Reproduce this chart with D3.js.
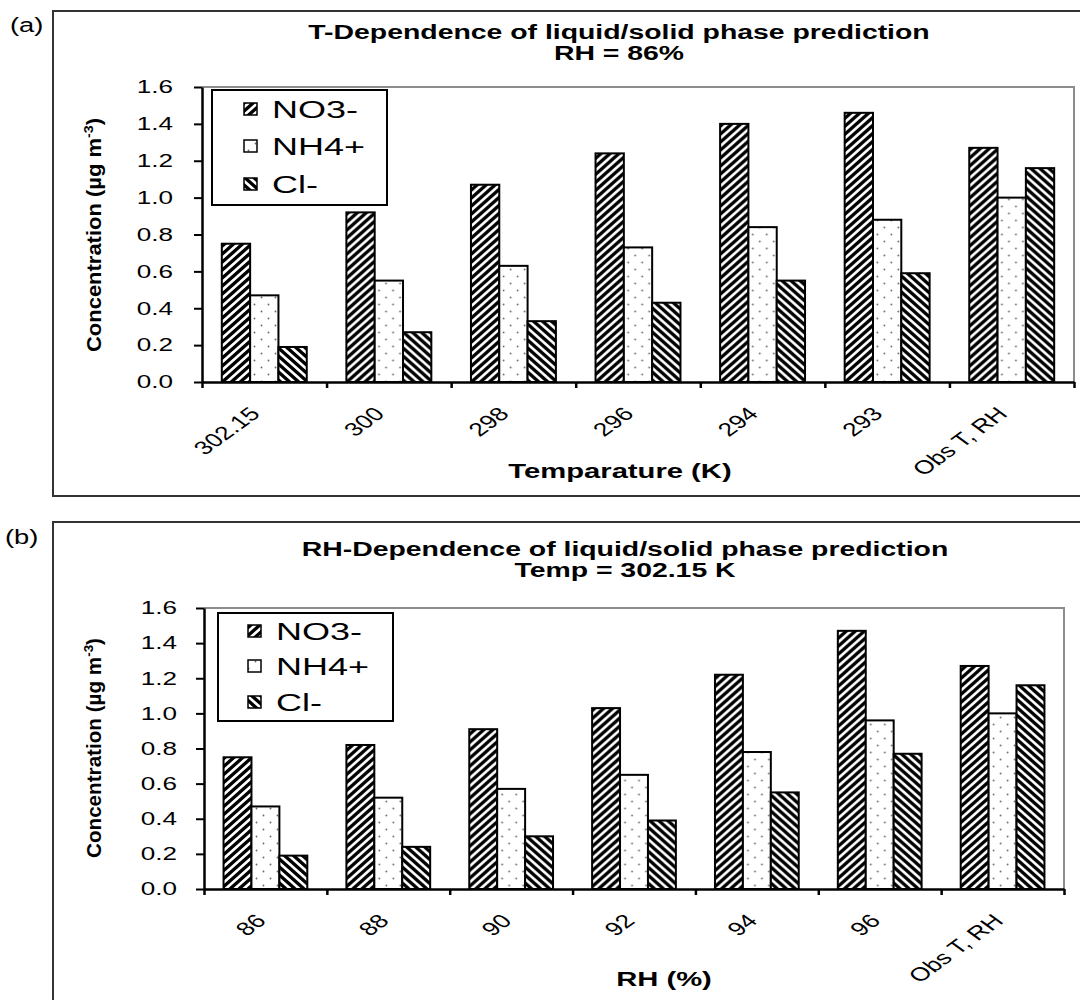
<!DOCTYPE html>
<html>
<head>
<meta charset="utf-8">
<script src="https://cdn.jsdelivr.net/npm/d3@7"></script>
<style>
body { margin: 0; background: #fff; }
text { font-family: "Liberation Sans", Arial, sans-serif; fill: #000; }
</style>
</head>
<body>
<div id="chart"></div>
<script>
// data
var seriesNames = ["NO3-", "NH4+", "Cl-"];
var yTicks = [0, 0.2, 0.4, 0.6, 0.8, 1.0, 1.2, 1.4, 1.6];

var tempLabels = ["302.15", "300", "298", "296", "294", "293", "Obs T, RH"];
var tempNO3 = [0.75, 0.92, 1.07, 1.24, 1.40, 1.46, 1.27];
var tempNH4 = [0.47, 0.55, 0.63, 0.73, 0.84, 0.88, 1.00];
var tempCl  = [0.19, 0.27, 0.33, 0.43, 0.55, 0.59, 1.16];

var rhLabels = ["86", "88", "90", "92", "94", "96", "Obs T, RH"];
var rhNO3 = [0.75, 0.82, 0.91, 1.03, 1.22, 1.47, 1.27];
var rhNH4 = [0.47, 0.52, 0.57, 0.65, 0.78, 0.96, 1.00];
var rhCl  = [0.19, 0.24, 0.30, 0.39, 0.55, 0.77, 1.16];

var svg = d3.select("#chart").append("svg")
	.attr("width", 1080)
	.attr("height", 1000);
var defs = svg.append("defs");

// hatch fills (excel style)
function hatch(id, up) {
	var w = 9, h = 8, a = 3, k = h / w;
	var p = defs.append("pattern").attr("id", id)
		.attr("patternUnits", "userSpaceOnUse")
		.attr("width", w).attr("height", h);
	p.append("rect").attr("width", w).attr("height", h).attr("fill", "#fff");
	var d;
	if (up) {
		d = "M0," + h + "L" + w + ",0" +
			"M" + (-a) + "," + (a * k) + "L" + a + "," + (-a * k) +
			"M" + (w - a) + "," + (h + a * k) + "L" + (w + a) + "," + (h - a * k);
	} else {
		d = "M0,0L" + w + "," + h +
			"M" + (-a) + "," + (h - a * k) + "L" + a + "," + (h + a * k) +
			"M" + (w - a) + "," + (-a * k) + "L" + (w + a) + "," + (a * k);
	}
	p.append("path").attr("d", d).attr("stroke", "#000").attr("stroke-width", 3.3).attr("fill", "none");
}
hatch("hatchUp", true);
hatch("hatchDown", false);

var dots = defs.append("pattern").attr("id", "dots")
	.attr("patternUnits", "userSpaceOnUse")
	.attr("width", 14).attr("height", 14);
dots.append("rect").attr("width", 14).attr("height", 14).attr("fill", "#fff");
dots.append("circle").attr("cx", 3.5).attr("cy", 3.5).attr("r", 0.9).attr("fill", "#666");
dots.append("circle").attr("cx", 10.5).attr("cy", 10.5).attr("r", 0.9).attr("fill", "#666");

var fills = ["url(#hatchUp)", "url(#dots)", "url(#hatchDown)"];

// the original picture is stretched sideways, so text gets scaled in x
function stext(g, x, y, str, size, sx, opts) {
	opts = opts || {};
	return g.append("text")
		.attr("transform", "translate(" + x + "," + y + ") scale(" + sx + ",1)" + (opts.rotate ? " rotate(" + opts.rotate + ")" : ""))
		.attr("text-anchor", opts.anchor || "start")
		.style("font-size", size + "px")
		.style("font-weight", opts.bold ? "bold" : "normal")
		.text(str);
}

function drawPanel(cfg) {
	var g = svg.append("g");

	// outer frame (runs off the right edge)
	g.append("rect")
		.attr("x", cfg.box[0]).attr("y", cfg.box[1])
		.attr("width", 1100).attr("height", cfg.box[2] - cfg.box[1])
		.attr("fill", "none").attr("stroke", "#333").attr("stroke-width", 2);

	stext(g, cfg.tag[0], cfg.tag[1], cfg.tagText, 21, 1.3);

	stext(g, cfg.title1[0], cfg.title1[1], cfg.titleText1, 20, 1.42, { anchor: "middle", bold: true });
	stext(g, cfg.title2[0], cfg.title2[1], cfg.titleText2, 20, 1.42, { anchor: "middle", bold: true });

	var rows = cfg.labels.map(function (l, i) {
		return { label: l, values: [cfg.no3[i], cfg.nh4[i], cfg.cl[i]] };
	});

	var x0 = d3.scaleBand().domain(cfg.labels).range([cfg.left, cfg.right]).padding(0);
	var x1 = d3.scaleBand().domain(seriesNames).range([0, x0.bandwidth()])
		.paddingInner(0).paddingOuter(0.7);
	var y = d3.scaleLinear().domain([0, 1.6]).range([cfg.bottom, cfg.top]);
	var xIdx = d3.scaleLinear().domain([0, cfg.labels.length]).range([cfg.left, cfg.right]);

	// plot area border (gray, top + right)
	g.append("path")
		.attr("d", "M" + cfg.left + "," + cfg.top + "H" + cfg.right + "V" + cfg.bottom)
		.attr("fill", "none").attr("stroke", "#8c8c8c").attr("stroke-width", 2);

	// bars
	var grp = g.selectAll(".grp").data(rows).enter().append("g")
		.attr("transform", function (d) { return "translate(" + x0(d.label) + ",0)"; });
	grp.selectAll("rect").data(function (d) { return d.values; }).enter().append("rect")
		.attr("x", function (d, i) { return x1(seriesNames[i]); })
		.attr("y", function (d) { return y(d); })
		.attr("width", x1.bandwidth())
		.attr("height", function (d) { return y(0) - y(d); })
		.attr("fill", function (d, i) { return fills[i]; })
		.attr("stroke", "#000").attr("stroke-width", 2);

	// y axis
	var ya = g.append("g").attr("transform", "translate(" + cfg.left + ",0)")
		.call(d3.axisLeft(y).tickValues(yTicks).tickFormat(d3.format(".1f")).tickSize(8).tickSizeOuter(0));
	ya.select(".domain").attr("stroke", "#000").attr("stroke-width", 2.5);
	ya.selectAll(".tick line").attr("stroke", "#000").attr("stroke-width", 2);
	ya.selectAll(".tick text")
		.attr("x", -cfg.yLabGap / 1.45)
		.attr("transform", "scale(1.45,1)")
		.style("font-size", "18px")
		.attr("font-family", null);

	// x axis, ticks between the categories
	var xa = g.append("g").attr("transform", "translate(0," + cfg.bottom + ")")
		.call(d3.axisBottom(xIdx).tickValues(d3.range(cfg.labels.length + 1)).tickFormat("").tickSize(6).tickSizeOuter(0));
	xa.select(".domain").attr("stroke", "#000").attr("stroke-width", 2.5);
	xa.selectAll(".tick line").attr("stroke", "#000").attr("stroke-width", 2.5);

	rows.forEach(function (d) {
		stext(g, x0(d.label) + x0.bandwidth() / 2 + cfg.xLabShift, cfg.bottom + 33, d.label, 19, 1.38,
			{ anchor: "end", rotate: -45 });
	});

	stext(g, cfg.xTitle[0], cfg.xTitle[1], cfg.xTitleText, 20, 1.46, { anchor: "middle", bold: true });

	// y axis title with superscript
	var yt = g.append("text")
		.attr("transform", "translate(" + cfg.yTitle[0] + "," + cfg.yTitle[1] + ") rotate(-90)")
		.attr("text-anchor", "middle")
		.attr("textLength", cfg.yTitleLen)
		.attr("lengthAdjust", "spacingAndGlyphs")
		.style("font-size", "20px").style("font-weight", "bold");
	yt.append("tspan").text("Concentration (\u00b5g m");
	yt.append("tspan").attr("dy", -8).style("font-size", "13px").text("-3");
	yt.append("tspan").attr("dy", 8).text(")");

	// legend
	var lg = cfg.legend;
	g.append("rect")
		.attr("x", lg.box[0]).attr("y", lg.box[1])
		.attr("width", lg.box[2] - lg.box[0]).attr("height", lg.box[3] - lg.box[1])
		.attr("fill", "#fff").attr("stroke", "#000").attr("stroke-width", 2);
	seriesNames.forEach(function (s, i) {
		var cy = lg.rows[i];
		g.append("rect")
			.attr("x", lg.swatchX).attr("y", cy - 6)
			.attr("width", 13).attr("height", 12)
			.attr("fill", fills[i]).attr("stroke", "#000").attr("stroke-width", 1.5);
		stext(g, lg.textX, cy + 8.5, s, 24, 1.5);
	});
}

drawPanel({
	box: [53, 11, 496],
	tag: [10, 32], tagText: "(a)",
	title1: [619, 39], titleText1: "T-Dependence of liquid/solid phase prediction",
	title2: [619, 60], titleText2: "RH = 86%",
	labels: tempLabels, no3: tempNO3, nh4: tempNH4, cl: tempCl,
	left: 202, right: 1074, top: 87, bottom: 382,
	yLabGap: 29, xLabShift: -3,
	xTitle: [620, 478], xTitleText: "Temparature (K)",
	yTitle: [101, 235], yTitleLen: 234,
	legend: { box: [212, 90, 387, 205], rows: [109, 146, 184], swatchX: 244, textX: 272 }
});

drawPanel({
	box: [53, 522, 1010],
	tag: [5, 544], tagText: "(b)",
	title1: [625, 556], titleText1: "RH-Dependence of liquid/solid phase prediction",
	title2: [625, 577], titleText2: "Temp = 302.15 K",
	labels: rhLabels, no3: rhNO3, nh4: rhNH4, cl: rhCl,
	left: 204, right: 1064, top: 608, bottom: 889,
	yLabGap: 27, xLabShift: 2,
	xTitle: [664, 986], xTitleText: "RH (%)",
	yTitle: [101, 748], yTitleLen: 220,
	legend: { box: [218, 613, 393, 721], rows: [631, 666, 702], swatchX: 248, textX: 276 }
});
</script>
</body>
</html>
